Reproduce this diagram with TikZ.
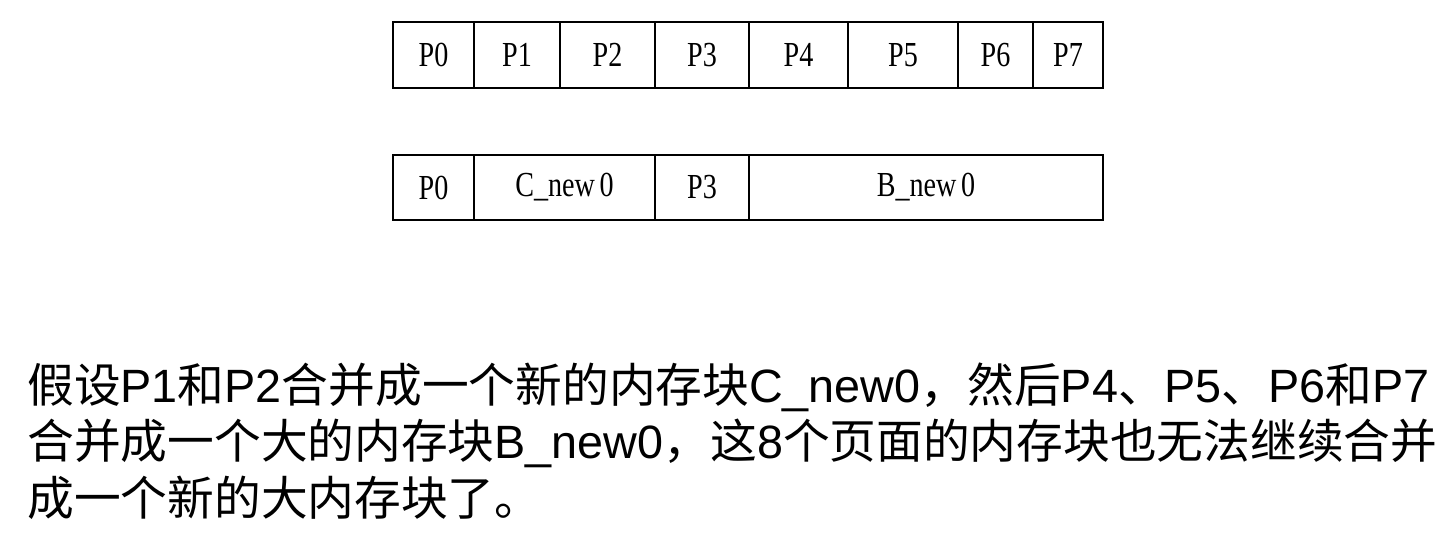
\documentclass[tikz,border=0pt]{standalone}
\usepackage{fontspec}
\setmainfont{Liberation Serif}
\newfontfamily\cjk{Noto Sans CJK SC}
\newfontfamily\latin{Liberation Sans}
\usetikzlibrary{positioning}
\tikzset{
  cell/.style={draw, line width=1.5pt, minimum height=1.32cm, inner sep=0pt, font=\fontsize{20pt}{24pt}\selectfont},
  cellwide/.style={cell, minimum height=1.30cm},
  noteline/.style={anchor=base west, inner sep=0pt, font=\latin\fontsize{26.6pt}{32pt}\selectfont}
}
\newcommand{\plabel}[1]{\scalebox{0.8}[1]{#1}}

\begin{document}
\begin{tikzpicture}[x=0.02cm, y=-0.02cm]
  \useasboundingbox (0,0) rectangle (1452,534);
  % pages before merging
  \node[cell, minimum width=1.62cm] (p0) at (433.5,55) {\plabel{P0}};
  \node[cell, minimum width=1.72cm] (p1) at (517,55) {\plabel{P1}};
  \node[cell, minimum width=1.90cm] (p2) at (607.5,55) {\plabel{P2}};
  \node[cell, minimum width=1.88cm] (p3) at (702,55) {\plabel{P3}};
  \node[cell, minimum width=1.98cm] (p4) at (798.5,55) {\plabel{P4}};
  \node[cell, minimum width=2.20cm] (p5) at (903,55) {\plabel{P5}};
  \node[cell, minimum width=1.50cm] (p6) at (995.5,55) {\plabel{P6}};
  \node[cell, minimum width=1.40cm] (p7) at (1068,55) {\plabel{P7}};
  % after merging
  \node[cellwide, minimum width=1.62cm] (q0) at (433.5,187.5) {\plabel{P0}};
  \node[cellwide, minimum width=3.62cm] (cnew) at (564.5,187.5) {\plabel{C\_new\,0}};
  \node[cellwide, minimum width=1.88cm] (q3) at (702,187.5) {\plabel{P3}};
  \node[cellwide, minimum width=7.08cm] (bnew) at (926,187.5) {\plabel{B\_new\,0}};
  % explanation
  \node[noteline] (l1) at (27,402) {{\cjk 假设}P1{\cjk 和}P2{\cjk 合并成一个新的内存块}C\_new0{\cjk ，然后}P4{\cjk 、}P5{\cjk 、}P6{\cjk 和}P7};
  \node[noteline] (l2) at (27,458) {{\cjk 合并成一个大的内存块}B\_new0{\cjk ，这}8{\cjk 个页面的内存块也无法继续合并}};
  \node[noteline] (l3) at (27,515) {{\cjk 成一个新的大内存块了。}};
\end{tikzpicture}
\end{document}
